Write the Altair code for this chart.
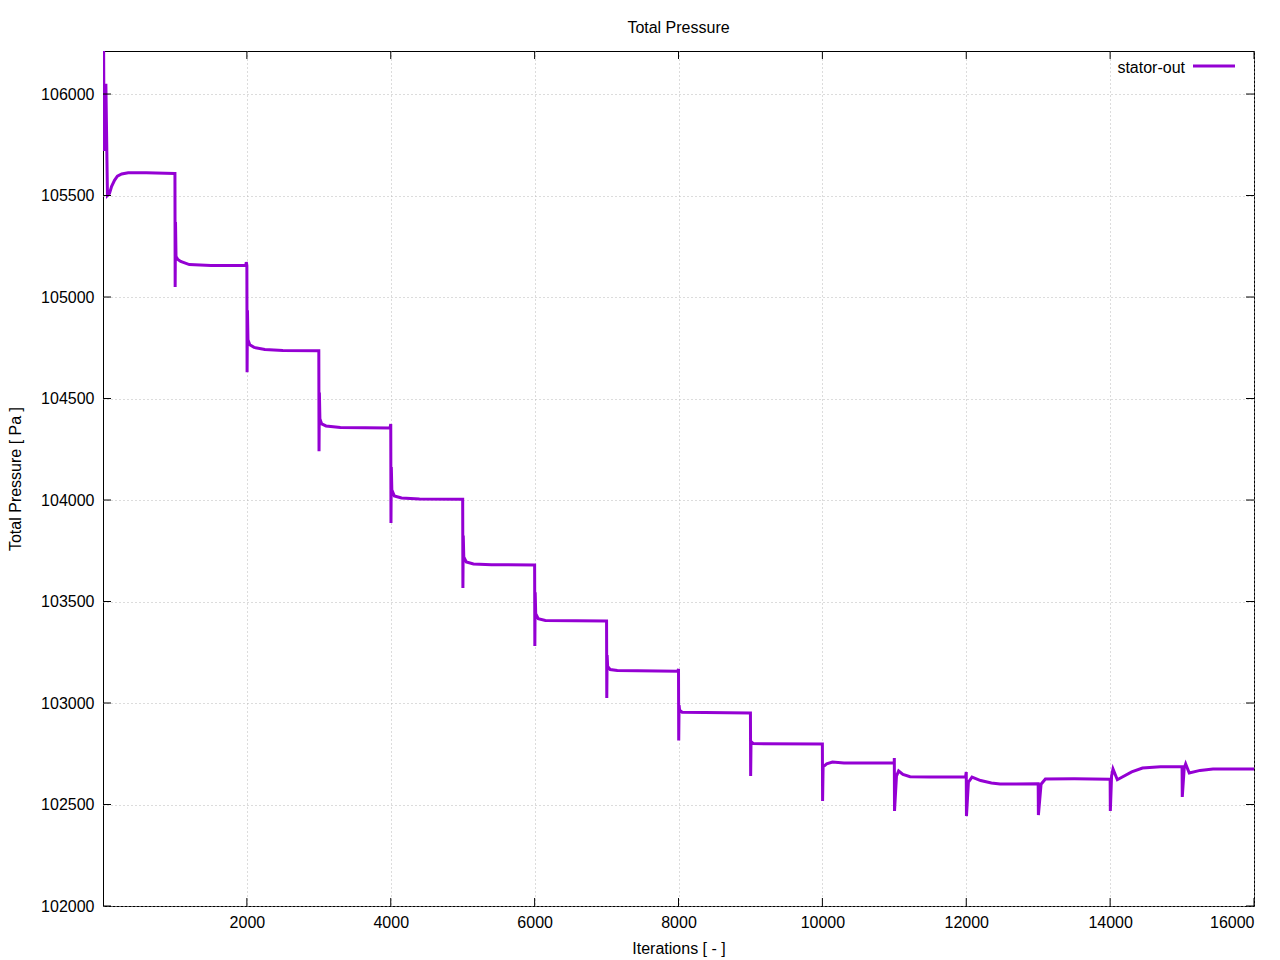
import altair as alt
import pandas as pd

# ---- data ----
iterations = [
    0, 15, 40, 62, 90, 120, 160, 200, 260, 350, 600, 999,
    1000, 1003, 1008, 1015, 1040, 1080, 1200, 1500, 1985,
    1992, 2000, 2003, 2008, 2015, 2040, 2100, 2250, 2500, 2999,
    3000, 3003, 3008, 3015, 3040, 3100, 3300, 3990,
    4000, 4003, 4008, 4015, 4050, 4150, 4400, 4999,
    5000, 5003, 5008, 5015, 5050, 5150, 5400, 5999,
    6000, 6003, 6008, 6015, 6050, 6150, 6999,
    7000, 7003, 7008, 7015, 7050, 7150, 7990,
    8000, 8003, 8008, 8015, 8050, 8999,
    9000, 9003, 9008, 9040, 9999,
    10000, 10003, 10010, 10060, 10140, 10300, 10999,
    11000, 11003, 11030, 11060, 11120, 11220, 11500, 11990,
    12000, 12003, 12030, 12080, 12200, 12350, 12470, 12999,
    13000, 13003, 13040, 13100, 13500, 13999,
    14000, 14003, 14020, 14040, 14100, 14300, 14450, 14700, 14999,
    15000, 15003, 15030, 15050, 15100, 15250, 15430, 16000,
]
total_pressure = [
    106900, 105720, 106050, 105500, 105510, 105545, 105575, 105595, 105606, 105612, 105612, 105608,
    105608, 105050, 105370, 105200, 105185, 105175, 105160, 105155, 105155,
    105172, 105155, 104630, 104935, 104790, 104765, 104752, 104742, 104737, 104735,
    104735, 104240, 104530, 104400, 104375, 104365, 104357, 104355,
    104374, 103887, 104163, 104050, 104020, 104010, 104005, 104004,
    104004, 103567, 103825, 103720, 103695, 103685, 103681, 103680,
    103680, 103281, 103545, 103440, 103415, 103407, 103404,
    103404, 103025, 103236, 103180, 103165, 103160, 103157,
    103167, 102815, 102990, 102965, 102955, 102951,
    102951, 102640, 102810, 102800, 102798,
    102798, 102517, 102685, 102700, 102709, 102705, 102704,
    102729, 102468, 102640, 102665, 102648, 102637, 102635, 102635,
    102660, 102443, 102610, 102635, 102618, 102606, 102601, 102602,
    102602, 102448, 102600, 102626, 102627, 102625,
    102625, 102468, 102640, 102675, 102622, 102661, 102680, 102686, 102686,
    102686, 102537, 102680, 102700, 102655, 102668, 102675, 102675,
]
series_name = ["stator-out"]
x_tick_values = [2000, 4000, 6000, 8000, 10000, 12000, 14000, 16000]
y_tick_values = [102000, 102500, 103000, 103500, 104000, 104500, 105000, 105500, 106000]
x_domain = [0, 16000]
y_domain = [102000, 106212]

FONT = "Liberation Sans"
W, H = 1151, 855
TICK = 8
COLOR = "#9400D3"

df = pd.DataFrame({"iter": iterations, "pressure": total_pressure})
xt_df = pd.DataFrame({"iter": x_tick_values})
yt_df = pd.DataFrame({"pressure": y_tick_values})
key_df = pd.DataFrame({"series": series_name})

X = alt.X(
    "iter:Q",
    scale=alt.Scale(domain=x_domain, nice=False, zero=False),
    axis=alt.Axis(
        values=x_tick_values, format="d", title="Iterations [ - ]",
        ticks=False, domain=False, grid=True, labelPadding=8, titlePadding=10,
    ),
)
Y = alt.Y(
    "pressure:Q",
    scale=alt.Scale(domain=y_domain, nice=False, zero=False),
    axis=alt.Axis(
        values=y_tick_values, format="d", title="Total Pressure [ Pa ]",
        ticks=False, domain=False, grid=True, labelPadding=9, titlePadding=17,
    ),
)

line = alt.Chart(df).mark_line(color=COLOR, strokeWidth=3, clip=True).encode(x=X, y=Y)

tick_style = dict(color="black", strokeWidth=1)
xb = alt.Chart(xt_df).mark_rule(**tick_style).encode(x=X, y=alt.value(H), y2=alt.value(H - TICK))
xtp = alt.Chart(xt_df).mark_rule(**tick_style).encode(x=X, y=alt.value(0), y2=alt.value(TICK))
yl = alt.Chart(yt_df).mark_rule(**tick_style).encode(y=Y, x=alt.value(0), x2=alt.value(TICK))
yr = alt.Chart(yt_df).mark_rule(**tick_style).encode(y=Y, x=alt.value(W - TICK), x2=alt.value(W))

key_text = alt.Chart(key_df).mark_text(
    align="right", baseline="middle", font=FONT, fontSize=16, color="black"
).encode(text="series:N", x=alt.value(1082), y=alt.value(17))
key_line = alt.Chart(key_df).mark_rule(color=COLOR, strokeWidth=3).encode(
    x=alt.value(1090), x2=alt.value(1132), y=alt.value(15)
)

chart = alt.layer(line, xb, xtp, yl, yr, key_text, key_line).properties(
    width=W, height=H,
    title=alt.TitleParams("Total Pressure", font=FONT, fontSize=16, fontWeight="normal",
                          anchor="middle", offset=15, color="black"),
    padding={"left": 95, "top": 43, "right": 18, "bottom": 52},
    autosize=alt.AutoSizeParams(type="none"),
    background="white",
).configure_view(
    stroke="black", strokeWidth=1
).configure_axis(
    labelFont=FONT, labelFontSize=16, labelColor="black",
    titleFont=FONT, titleFontSize=16, titleFontWeight="normal", titleColor="black",
    gridColor="#b8b8b8", gridDash=[1, 3], gridWidth=1,
)

chart.save("out.html", embed_options={"renderer": "svg", "actions": False})
